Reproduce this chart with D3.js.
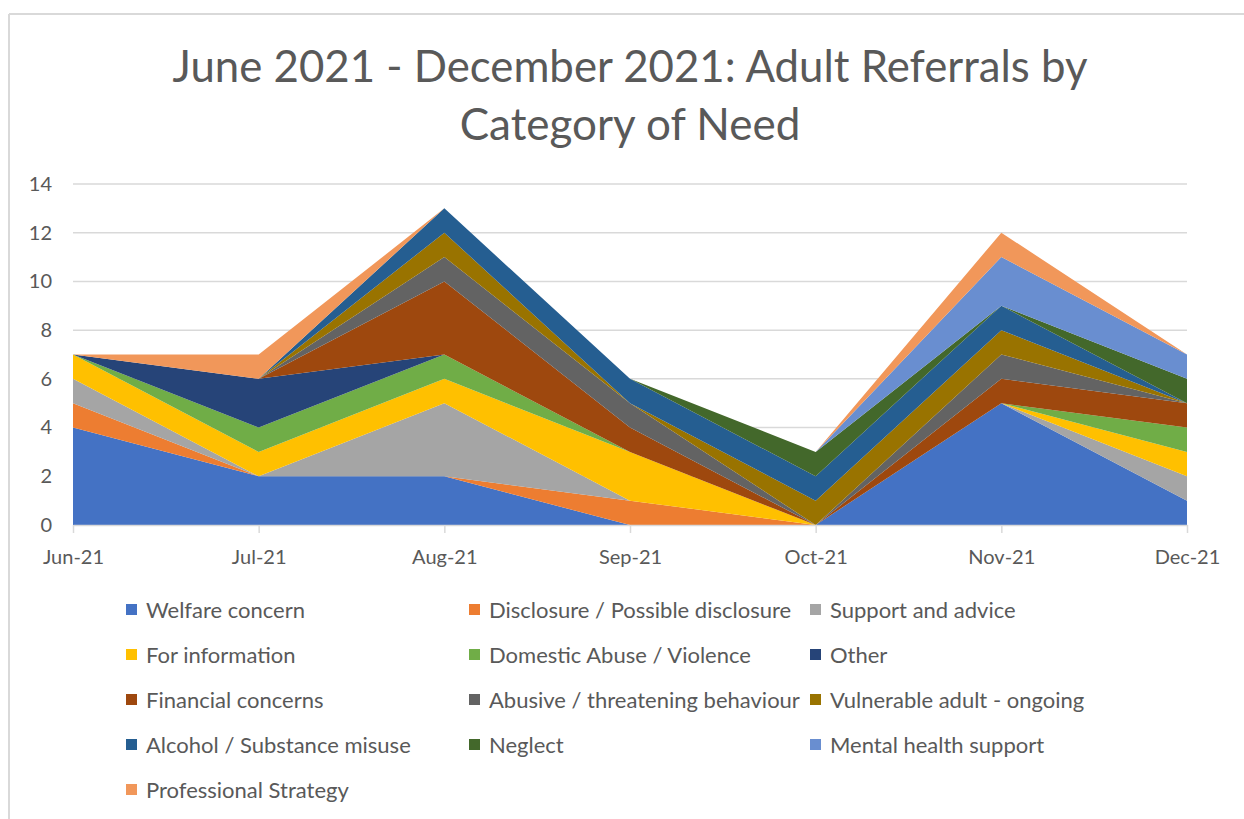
<!DOCTYPE html>
<html>
<head>
<meta charset="utf-8">
<script src="https://cdn.jsdelivr.net/npm/d3@7"></script>
<style>
  html, body { margin: 0; padding: 0; background: #fff; }
  svg { display: block; font-family: "Lato", "Open Sans", sans-serif; }
</style>
</head>
<body>
<svg id="chart" width="1244" height="819"></svg>
<script>
// Months on the category axis
const months = ["Jun-21", "Jul-21", "Aug-21", "Sep-21", "Oct-21", "Nov-21", "Dec-21"];

// Referral counts per category of need, one value per month
const welfareConcern      = [4, 2, 2, 0, 0, 5, 1];
const disclosure          = [1, 0, 0, 1, 0, 0, 0];
const supportAndAdvice    = [1, 0, 3, 0, 0, 0, 1];
const forInformation      = [1, 1, 1, 2, 0, 0, 1];
const domesticAbuse       = [0, 1, 1, 0, 0, 0, 1];
const other               = [0, 2, 0, 0, 0, 0, 0];
const financialConcerns   = [0, 0, 3, 1, 0, 1, 1];
const abusiveBehaviour    = [0, 0, 1, 1, 0, 1, 0];
const vulnerableAdult     = [0, 0, 1, 0, 1, 1, 0];
const alcoholSubstance    = [0, 0, 1, 1, 1, 1, 0];
const neglect             = [0, 0, 0, 0, 1, 0, 1];
const mentalHealth        = [0, 0, 0, 0, 0, 2, 1];
const professionalStrategy= [0, 1, 0, 0, 0, 1, 0];

const seriesNames = [
  "Welfare concern", "Disclosure / Possible disclosure", "Support and advice",
  "For information", "Domestic Abuse / Violence", "Other",
  "Financial concerns", "Abusive / threatening behaviour", "Vulnerable adult - ongoing",
  "Alcohol / Substance misuse", "Neglect", "Mental health support",
  "Professional Strategy"
];
const seriesValues = [
  welfareConcern, disclosure, supportAndAdvice, forInformation, domesticAbuse, other,
  financialConcerns, abusiveBehaviour, vulnerableAdult, alcoholSubstance, neglect,
  mentalHealth, professionalStrategy
];
const seriesColors = [
  "#4472C4", "#ED7D31", "#A5A5A5", "#FFC000", "#70AD47", "#264478",
  "#9E480E", "#636363", "#997300", "#255E91", "#43682B", "#698ED0", "#F1975A"
];

const yTicks = [0, 2, 4, 6, 8, 10, 12, 14];

const titleLines = ["June 2021 - December 2021: Adult Referrals by", "Category of Need"];

// ---- layout ----
const svg = d3.select("#chart");
const plot = { left: 73, right: 1187, top: 184, bottom: 525 };
const textColor = "#595959";
const gridColor = "#D9D9D9";

// chart frame (only top and left edges fall inside the view)
svg.append("line").attr("x1", 9).attr("x2", 1244).attr("y1", 14).attr("y2", 14)
  .attr("stroke", "#D9D9D9").attr("stroke-width", 2);
svg.append("line").attr("x1", 9).attr("x2", 9).attr("y1", 14).attr("y2", 819)
  .attr("stroke", "#D9D9D9").attr("stroke-width", 2);

// title, fitted to its line width
const titleWidths = [915, 341];
titleLines.forEach((t, i) => {
  const el = svg.append("text")
    .attr("x", 630).attr("y", 82 + i * 58)
    .attr("text-anchor", "middle")
    .attr("fill", textColor)
    .attr("font-size", 44)
    .text(t);
  const w = el.node().getComputedTextLength();
  if (Math.abs(w - titleWidths[i]) > 2) {
    el.attr("textLength", titleWidths[i]).attr("lengthAdjust", "spacingAndGlyphs");
  }
});

// scales
const x = d3.scalePoint().domain(months).range([plot.left, plot.right]);
const y = d3.scaleLinear().domain([0, 14]).range([plot.bottom, plot.top]);

// gridlines
svg.append("g")
  .selectAll("line")
  .data(yTicks.filter(d => d > 0))
  .join("line")
  .attr("x1", plot.left).attr("x2", plot.right)
  .attr("y1", d => y(d)).attr("y2", d => y(d))
  .attr("stroke", gridColor).attr("stroke-width", 1.5);

// stacked areas
const rows = months.map((m, i) => {
  const r = { month: m };
  seriesNames.forEach((s, k) => { r[s] = seriesValues[k][i]; });
  return r;
});
const stack = d3.stack().keys(seriesNames)(rows);
const area = d3.area()
  .x(d => x(d.data.month))
  .y0(d => y(d[0]))
  .y1(d => y(d[1]));

svg.append("g")
  .selectAll("path")
  .data(stack)
  .join("path")
  .attr("d", area)
  .attr("fill", (d, i) => seriesColors[i]);

// y axis labels
const yAxis = svg.append("g")
  .attr("transform", `translate(${plot.left},0)`)
  .call(d3.axisLeft(y).tickValues(yTicks).tickSize(0).tickPadding(21));
yAxis.select(".domain").remove();
yAxis.selectAll("text").attr("fill", textColor).attr("font-size", 20)
  .attr("font-family", "Lato, sans-serif");

// x axis
const xAxis = svg.append("g")
  .attr("transform", `translate(0,${plot.bottom})`)
  .call(d3.axisBottom(x).tickSize(8).tickPadding(17).tickSizeOuter(0));
xAxis.select(".domain").attr("stroke", gridColor).attr("stroke-width", 1.5);
xAxis.selectAll(".tick line").attr("stroke", gridColor).attr("stroke-width", 1.5);
xAxis.selectAll("text").attr("fill", textColor).attr("font-size", 20)
  .attr("font-family", "Lato, sans-serif");

// legend: three columns, filled row by row
const colX = [126, 469, 810];
const rowY = [610, 655, 700, 745, 790];
const legend = svg.append("g")
  .selectAll("g")
  .data(seriesNames)
  .join("g")
  .attr("transform", (d, i) => `translate(${colX[i % 3]},${rowY[Math.floor(i / 3)]})`);
legend.append("rect")
  .attr("x", 0).attr("y", -6).attr("width", 11).attr("height", 11)
  .attr("fill", (d, i) => seriesColors[i]);
legend.append("text")
  .attr("x", 20).attr("y", 0).attr("dy", "0.35em")
  .attr("fill", textColor).attr("font-size", 22)
  .text(d => d);
</script>
</body>
</html>
